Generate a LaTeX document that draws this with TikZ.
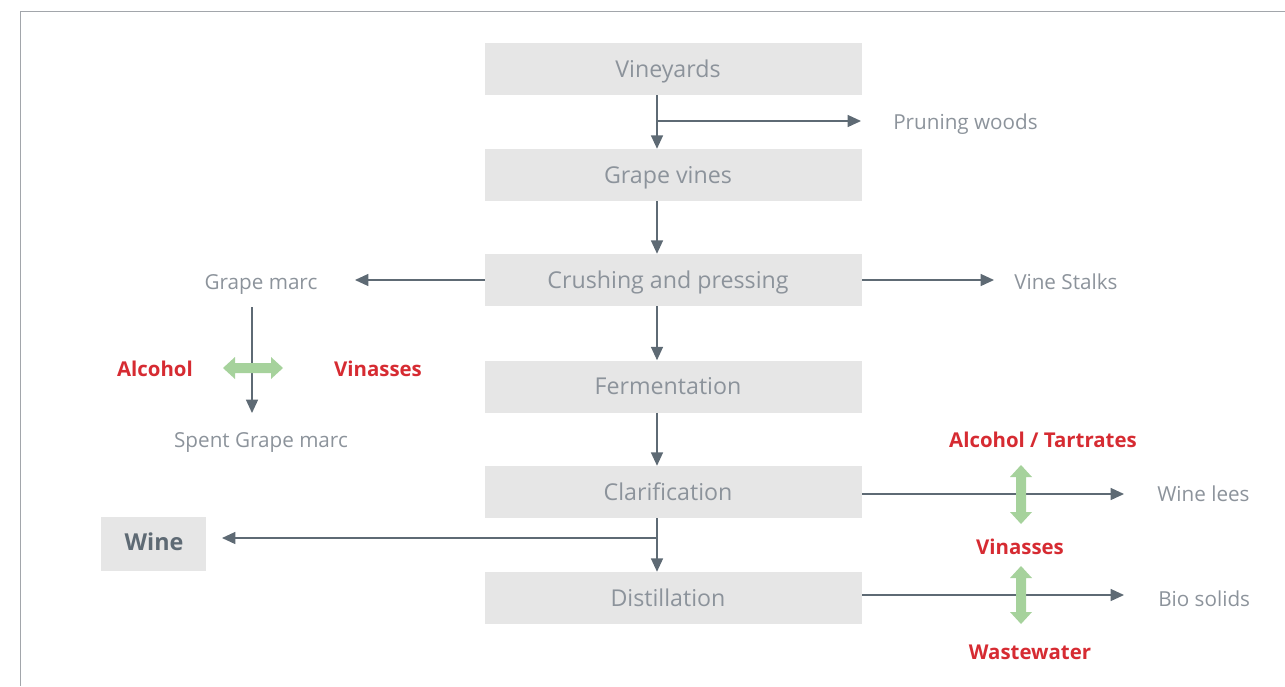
\documentclass[tikz,border=0pt]{standalone}
\usepackage{fontspec}
\setmainfont{Open Sans}
\usetikzlibrary{arrows.meta}
\definecolor{boxfill}{HTML}{E6E6E6}
\definecolor{txtgray}{HTML}{8C939B}
\definecolor{arrgray}{HTML}{5E6A74}
\definecolor{redtxt}{HTML}{D62B32}
\definecolor{greenarr}{HTML}{A6D29C}
\definecolor{framegray}{HTML}{A2A6AB}
\newcommand{\boxtxt}[1]{\hspace*{-8.25pt}#1}
\tikzset{
  stepbox/.style={fill=boxfill, minimum width=377*0.75pt, minimum height=52*0.75pt, inner sep=0pt, text=txtgray, font=\fontsize{17.4}{20}\selectfont, text height=12.4pt, text depth=0pt},
  side/.style={text=txtgray, font=\fontsize{15.5}{18}\selectfont, inner sep=0pt, text height=11.1pt, text depth=0pt},
  redlbl/.style={text=redtxt, font=\bfseries\fontsize{15.3}{18}\selectfont, inner sep=0pt, text height=10.9pt, text depth=0pt},
  flow/.style={draw=arrgray, line width=1pt, -{Triangle[length=10pt,width=9pt]}},
  greenfill/.style={fill=greenarr, draw=none}
}
\begin{document}
\begin{tikzpicture}[x=0.75pt,y=-0.75pt]
\useasboundingbox (0,0) rectangle (1285,686);
% frame
\draw[framegray, line width=1.2pt] (20.5,686) -- (20.5,11.5) -- (1285,11.5);
% main boxes
\node[stepbox] (vin) at (673.5,69) {\boxtxt{Vineyards}};
\node[stepbox] (gv) at (673.5,175) {\boxtxt{Grape vines}};
\node[stepbox] (cp) at (673.5,280) {\boxtxt{Crushing and pressing}};
\node[stepbox] (fe) at (673.5,386.5) {\boxtxt{Fermentation}};
\node[stepbox] (cl) at (673.5,492) {\boxtxt{Clarification}};
\node[stepbox] (di) at (673.5,598) {\boxtxt{Distillation}};
\node[fill=boxfill, minimum width=105*0.75pt, minimum height=54*0.75pt, inner sep=0pt] (wine) at (153.5,544) {};
\node[text=arrgray, font=\bfseries\fontsize{17.5}{20}\selectfont, inner sep=0pt, text height=12.5pt, text depth=0pt] (winetxt) at (154,542) {Wine};
% side labels
\node[side, anchor=west] (pw) at (893,122) {Pruning woods};
\node[side] (gm) at (261,282) {Grape marc};
\node[side, anchor=west] (vs) at (1014,282) {Vine Stalks};
\node[side] (sgm) at (261,440.5) {Spent Grape marc};
\node[side, anchor=west] (wl) at (1157,494) {Wine lees};
\node[side, anchor=west] (bs) at (1158,599.5) {Bio solids};
% red labels
\node[redlbl] (alc) at (155,369) {Alcohol};
\node[redlbl] (vi1) at (378,369) {Vinasses};
\node[redlbl] (at) at (1043,440.5) {Alcohol / Tartrates};
\node[redlbl] (vi2) at (1020,547) {Vinasses};
\node[redlbl] (ww) at (1030,652) {Wastewater};
% coordinates
\coordinate (b1) at (657,121);
\coordinate (pwt) at (861,121);
\coordinate (gmt) at (355,280);
\coordinate (vst) at (994,280);
\coordinate (gmtop) at (252,307);
\coordinate (gmbot) at (252,413);
\coordinate (b2) at (657,538);
\coordinate (winet) at (222,538);
\coordinate (wlt) at (1124,494);
\coordinate (bst) at (1124,595);
% connectors
\draw[flow] (vin.south -| b1) -- (gv.north -| b1);
\draw[flow] (b1) -- (pwt);
\draw[flow] (gv.south -| b1) -- (cp.north -| b1);
\draw[flow] (cp.west |- gmt) -- (gmt);
\draw[flow] (cp.east |- vst) -- (vst);
\draw[flow] (cp.south -| b1) -- (fe.north -| b1);
\draw[flow] (fe.south -| b1) -- (cl.north -| b1);
\draw[flow] (cl.south -| b1) -- (di.north -| b1);
\draw[flow] (b2) -- (winet);
\draw[flow] (cl.east |- wlt) -- (wlt);
\draw[flow] (di.east |- bst) -- (bst);
\draw[flow] (gmtop) -- (gmbot);
% green double arrows
\fill[greenfill] (223,368) -- (235,357) -- (235,363) -- (271,363) -- (271,357) -- (283,368) -- (271,379) -- (271,373) -- (235,373) -- (235,379) -- cycle;
\fill[greenfill] (1021,465) -- (1032,477) -- (1026,477) -- (1026,512) -- (1032,512) -- (1021,524) -- (1010,512) -- (1016,512) -- (1016,477) -- (1010,477) -- cycle;
\fill[greenfill] (1021,566) -- (1032,578) -- (1026,578) -- (1026,612) -- (1032,612) -- (1021,624) -- (1010,612) -- (1016,612) -- (1016,578) -- (1010,578) -- cycle;
\end{tikzpicture}
\end{document}
